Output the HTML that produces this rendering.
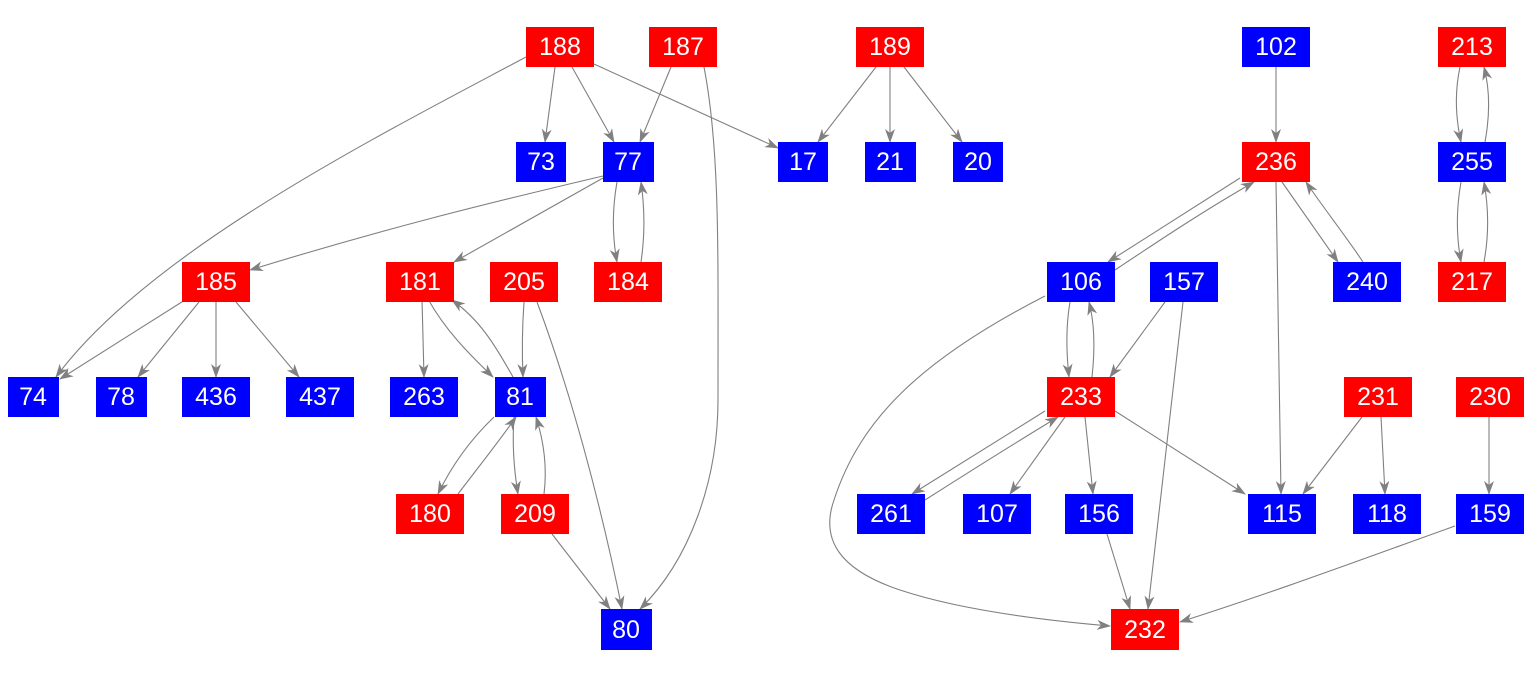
<!DOCTYPE html>
<html><head><meta charset="utf-8"><style>
html,body{margin:0;padding:0;background:#fff;width:1533px;height:675px;overflow:hidden}
svg{display:block}
text{font-family:"Liberation Sans",Arial,sans-serif;font-size:25px;fill:#fff;text-anchor:middle;dominant-baseline:central}
path{fill:none;stroke:#808080;stroke-width:1.1}
</style></head><body>
<svg width="1533" height="675" viewBox="0 0 1533 675">
<defs><marker id="a" viewBox="0 0 14 10" refX="13" refY="5" markerWidth="14" markerHeight="10" markerUnits="userSpaceOnUse" orient="auto"><path d="M0,0 L14,5 L0,10 L4,5 Z" style="fill:#808080;stroke:none"/></marker></defs>
<g marker-end="url(#a)">
<!-- 188 -->
<path d="M555,67 L545,142"/>
<path d="M572,67 L614,142"/>
<path d="M594,64 L778,148"/>
<path d="M526,57 C380,135 150,250 56,377"/>
<!-- 187 -->
<path d="M671,67 L640,142"/>
<path d="M704,67 C720,150 718,250 718,400 C718,480 690,560 640,609"/>
<!-- 189 -->
<path d="M876,67 L818,142"/>
<path d="M890,67 L890,142"/>
<path d="M904,67 L962,142"/>
<!-- 77 -->
<path d="M603,176 C480,205 380,230 250,270"/>
<path d="M603,178 L454,262"/>
<path d="M617,182 C612,210 612,235 617,262"/>
<path d="M641,262 C645,235 645,210 641,182"/>
<!-- 185 -->
<path d="M185,300 L60,379"/>
<path d="M199,302 L138,377"/>
<path d="M216,302 L216,377"/>
<path d="M236,302 L299,377"/>
<!-- 181 -->
<path d="M422,299 L424,377"/>
<path d="M428,299 C445,330 470,355 493,377"/>
<path d="M513,377 C495,345 480,320 452,300"/>
<!-- 205 -->
<path d="M524,302 C522,330 522,355 523,377"/>
<path d="M537,302 C570,390 600,500 622,609"/>
<!-- 81 -->
<path d="M494,417 C470,440 452,465 438,494"/>
<path d="M458,494 C480,465 500,440 516,417"/>
<path d="M514,417 C512,445 514,470 518,494"/>
<path d="M544,494 C547,470 545,445 536,417"/>
<path d="M552,534 L610,609"/>
<!-- right -->
<path d="M1276,67 L1276,142"/>
<path d="M1240,178 L1108,262"/>
<path d="M1115,270 C1160,240 1205,210 1254,182"/>
<path d="M1282,182 L1338,262"/>
<path d="M1363,262 C1345,235 1325,210 1306,182"/>
<path d="M1276,182 L1281,494"/>
<path d="M1460,67 C1455,90 1455,115 1461,142"/>
<path d="M1485,142 C1490,115 1490,90 1484,67"/>
<path d="M1461,182 C1456,210 1456,235 1461,262"/>
<path d="M1484,262 C1489,235 1489,210 1484,182"/>
<path d="M1070,302 C1066,325 1066,350 1069,377"/>
<path d="M1092,377 C1095,350 1095,325 1089,302"/>
<path d="M1045,296 C920,360 860,420 834,500 C820,540 840,570 900,590 C960,610 1040,620 1110,626"/>
<path d="M1165,302 L1110,377"/>
<path d="M1183,302 L1148,609"/>
<path d="M1045,411 L912,494"/>
<path d="M925,500 C980,465 1020,440 1058,417"/>
<path d="M1065,417 L1010,494"/>
<path d="M1085,417 L1093,494"/>
<path d="M1115,411 L1245,494"/>
<path d="M1107,534 L1130,609"/>
<path d="M1362,417 L1303,494"/>
<path d="M1381,417 L1385,494"/>
<path d="M1489,417 L1489,494"/>
<path d="M1455,526 C1360,560 1280,590 1180,622"/>
</g>
<g>
<rect x="526" y="27" width="68" height="40" fill="#f00"/><text x="560" y="47">188</text>
<rect x="649" y="27" width="68" height="40" fill="#f00"/><text x="683" y="47">187</text>
<rect x="856" y="27" width="68" height="40" fill="#f00"/><text x="890" y="47">189</text>
<rect x="1242" y="27" width="68" height="40" fill="#00f"/><text x="1276" y="47">102</text>
<rect x="1438" y="27" width="68" height="40" fill="#f00"/><text x="1472" y="47">213</text>
<rect x="516" y="142" width="50" height="40" fill="#00f"/><text x="541" y="162">73</text>
<rect x="603" y="142" width="51" height="40" fill="#00f"/><text x="628" y="162">77</text>
<rect x="778" y="142" width="50" height="40" fill="#00f"/><text x="803" y="162">17</text>
<rect x="865" y="142" width="51" height="40" fill="#00f"/><text x="890" y="162">21</text>
<rect x="953" y="142" width="50" height="40" fill="#00f"/><text x="978" y="162">20</text>
<rect x="1242" y="142" width="68" height="40" fill="#f00"/><text x="1276" y="162">236</text>
<rect x="1438" y="142" width="68" height="40" fill="#00f"/><text x="1472" y="162">255</text>
<rect x="182" y="262" width="68" height="40" fill="#f00"/><text x="216" y="282">185</text>
<rect x="386" y="262" width="68" height="40" fill="#f00"/><text x="420" y="282">181</text>
<rect x="490" y="262" width="68" height="40" fill="#f00"/><text x="524" y="282">205</text>
<rect x="594" y="262" width="68" height="40" fill="#f00"/><text x="628" y="282">184</text>
<rect x="1047" y="262" width="68" height="40" fill="#00f"/><text x="1081" y="282">106</text>
<rect x="1150" y="262" width="68" height="40" fill="#00f"/><text x="1184" y="282">157</text>
<rect x="1333" y="262" width="68" height="40" fill="#00f"/><text x="1367" y="282">240</text>
<rect x="1438" y="262" width="68" height="40" fill="#f00"/><text x="1472" y="282">217</text>
<rect x="8" y="377" width="51" height="40" fill="#00f"/><text x="33" y="397">74</text>
<rect x="96" y="377" width="51" height="40" fill="#00f"/><text x="121" y="397">78</text>
<rect x="182" y="377" width="68" height="40" fill="#00f"/><text x="216" y="397">436</text>
<rect x="286" y="377" width="68" height="40" fill="#00f"/><text x="320" y="397">437</text>
<rect x="390" y="377" width="68" height="40" fill="#00f"/><text x="424" y="397">263</text>
<rect x="495" y="377" width="51" height="40" fill="#00f"/><text x="520" y="397">81</text>
<rect x="1047" y="377" width="68" height="40" fill="#f00"/><text x="1081" y="397">233</text>
<rect x="1344" y="377" width="68" height="40" fill="#f00"/><text x="1378" y="397">231</text>
<rect x="1456" y="377" width="68" height="40" fill="#f00"/><text x="1490" y="397">230</text>
<rect x="396" y="494" width="68" height="40" fill="#f00"/><text x="430" y="514">180</text>
<rect x="501" y="494" width="68" height="40" fill="#f00"/><text x="535" y="514">209</text>
<rect x="857" y="494" width="68" height="40" fill="#00f"/><text x="891" y="514">261</text>
<rect x="963" y="494" width="68" height="40" fill="#00f"/><text x="997" y="514">107</text>
<rect x="1065" y="494" width="68" height="40" fill="#00f"/><text x="1099" y="514">156</text>
<rect x="1248" y="494" width="68" height="40" fill="#00f"/><text x="1282" y="514">115</text>
<rect x="1353" y="494" width="68" height="40" fill="#00f"/><text x="1387" y="514">118</text>
<rect x="1456" y="494" width="68" height="40" fill="#00f"/><text x="1490" y="514">159</text>
<rect x="601" y="609" width="51" height="41" fill="#00f"/><text x="626" y="630">80</text>
<rect x="1111" y="609" width="68" height="41" fill="#f00"/><text x="1145" y="630">232</text>
</g>
</svg>
</body></html>
